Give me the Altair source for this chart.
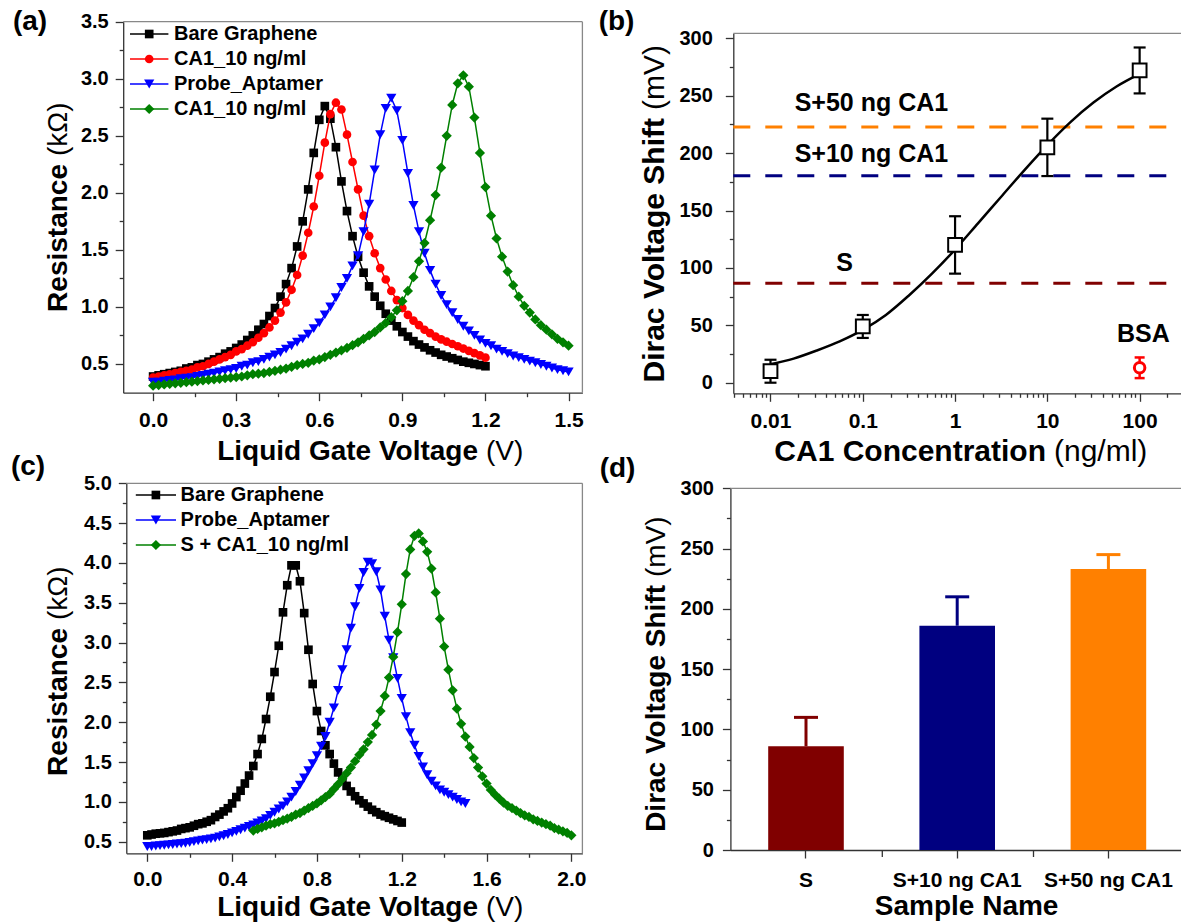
import altair as alt
import pandas as pd

FONT = "Liberation Sans"
W, H = 1181, 922
STEP = 0.02  # gate-voltage sweep step (V)

# ---------------- panel (a): resistance (kOhm), sweeps start at 0 V ----------------
a_black = [0.39, 0.40, 0.41, 0.42, 0.43, 0.44, 0.46, 0.47, 0.49, 0.50,
           0.52, 0.54, 0.56, 0.59, 0.61, 0.64, 0.67, 0.71, 0.75, 0.80,
           0.85, 0.92, 0.99, 1.09, 1.20, 1.34, 1.53, 1.75, 2.03, 2.35,
           2.64, 2.76, 2.65, 2.40, 2.10, 1.84, 1.62, 1.44, 1.30, 1.18,
           1.09, 1.01, 0.94, 0.88, 0.83, 0.78, 0.74, 0.70, 0.67, 0.645,
           0.62, 0.60, 0.58, 0.565, 0.55, 0.535, 0.52, 0.51, 0.50, 0.49, 0.48]
a_red = [0.38, 0.39, 0.40, 0.41, 0.42, 0.43, 0.44, 0.45, 0.47, 0.48,
         0.50, 0.52, 0.54, 0.56, 0.58, 0.61, 0.63, 0.66, 0.69, 0.73,
         0.77, 0.82, 0.88, 0.95, 1.04, 1.15, 1.28, 1.45, 1.65, 1.88,
         2.15, 2.44, 2.69, 2.79, 2.73, 2.51, 2.27, 2.03, 1.80, 1.62,
         1.47, 1.34, 1.24, 1.14, 1.06, 0.99, 0.93, 0.88, 0.84, 0.80,
         0.77, 0.74, 0.715, 0.695, 0.675, 0.655, 0.635, 0.615, 0.595, 0.575, 0.555]
a_blue = [0.34, 0.34, 0.35, 0.355, 0.36, 0.37, 0.375, 0.38, 0.39, 0.40,
          0.41, 0.42, 0.43, 0.44, 0.45, 0.46, 0.48, 0.49, 0.51, 0.52,
          0.54, 0.56, 0.58, 0.60, 0.63, 0.66, 0.69, 0.72, 0.76, 0.81,
          0.86, 0.93, 1.00, 1.08, 1.17, 1.25, 1.36, 1.45, 1.66, 1.90,
          2.20, 2.51, 2.74, 2.83, 2.72, 2.46, 2.17, 1.89, 1.66, 1.47,
          1.32, 1.20, 1.10, 1.02, 0.95, 0.89, 0.83, 0.79, 0.75, 0.71,
          0.68, 0.66, 0.63, 0.61, 0.59, 0.57, 0.555, 0.54, 0.525, 0.51,
          0.495, 0.48, 0.465, 0.45, 0.44, 0.43]
a_green = [0.31, 0.315, 0.32, 0.325, 0.33, 0.335, 0.34, 0.345, 0.35, 0.355,
           0.36, 0.365, 0.37, 0.375, 0.38, 0.385, 0.39, 0.40, 0.41, 0.415,
           0.42, 0.43, 0.44, 0.45, 0.46, 0.475, 0.49, 0.50, 0.51, 0.53,
           0.54, 0.56, 0.58, 0.60, 0.62, 0.64, 0.665, 0.69, 0.72, 0.75,
           0.78, 0.82, 0.86, 0.91, 0.97, 1.05, 1.14, 1.26, 1.40, 1.56,
           1.76, 1.98, 2.22, 2.50, 2.77, 2.96, 3.03, 2.93, 2.66, 2.35,
           2.05, 1.80, 1.60, 1.44, 1.31, 1.19, 1.09, 1.01, 0.95, 0.89,
           0.84, 0.80, 0.76, 0.72, 0.69, 0.66]
a_series = [a_black, a_red, a_blue, a_green]
a_starts = [0.0, 0.0, 0.0, 0.0]
a_names = ["Bare Graphene", "CA1_10 ng/ml", "Probe_Aptamer", "CA1_10 ng/ml"]
a_colors = ["#000000", "#FF0000", "#0000FF", "#008000"]
a_shapes = ["square", "circle", "triangle-down", "diamond"]
a_sizes = [75, 75, 105, 105]

# ---------------- panel (b): Dirac voltage shift (mV) vs CA1 concentration ----------------
b_conc = [0.01, 0.1, 1, 10, 100]
b_shift = [10, 49, 120, 205, 272]
b_err = [10, 10, 25, 25, 20]
b_bsa_conc = [100]
b_bsa_shift = [13]
b_bsa_err = [9]
b_fit_conc = [0.01, 0.0178, 0.0316, 0.0562, 0.1, 0.178, 0.316, 0.562, 1,
              1.78, 3.16, 5.62, 10, 17.8, 31.6, 56.2, 100]
b_fit_shift = [16, 21, 28, 36, 46, 59, 76, 95, 116, 139, 162, 185, 207, 227, 244, 258, 269]
b_ref_names = ["S", "S+10 ng CA1", "S+50 ng CA1"]
b_ref_shift = [86.6, 180.3, 222.7]
b_ref_colors = ["#800000", "#000080", "#FF8000"]
b_note_text = ["S+50 ng CA1", "S+10 ng CA1", "S", "BSA"]
b_note_conc = [0.124, 0.124, 0.0634, 110]
b_note_shift = [243.4, 199.2, 104, 42.4]

# ---------------- panel (c): resistance (kOhm) ----------------
c_black = [0.58, 0.59, 0.60, 0.605, 0.61, 0.62, 0.63, 0.64, 0.66, 0.67,
           0.68, 0.70, 0.72, 0.73, 0.75, 0.77, 0.81, 0.84, 0.88, 0.92,
           0.98, 1.06, 1.14, 1.23, 1.33, 1.45, 1.60, 1.79, 2.04, 2.32,
           2.63, 2.96, 3.38, 3.72, 3.97, 3.97, 3.77, 3.37, 2.91, 2.48,
           2.14, 1.89, 1.71, 1.60, 1.48, 1.37, 1.27, 1.20, 1.13, 1.07,
           1.02, 0.98, 0.94, 0.90, 0.87, 0.84, 0.82, 0.80, 0.78, 0.76, 0.74]
c_blue = [0.44, 0.44, 0.445, 0.45, 0.455, 0.46, 0.465, 0.47, 0.475, 0.48,
          0.49, 0.50, 0.51, 0.52, 0.525, 0.535, 0.545, 0.56, 0.575, 0.59,
          0.61, 0.63, 0.65, 0.67, 0.69, 0.71, 0.735, 0.76, 0.79, 0.83,
          0.87, 0.91, 0.95, 1.00, 1.06, 1.13, 1.21, 1.30, 1.39, 1.48,
          1.58, 1.70, 1.82, 2.00, 2.18, 2.40, 2.66, 2.91, 3.18, 3.45,
          3.68, 3.88, 4.01, 3.99, 3.89, 3.66, 3.33, 3.03, 2.81, 2.55,
          2.30, 2.07, 1.87, 1.71, 1.57, 1.44, 1.34, 1.26, 1.20, 1.15,
          1.12, 1.09, 1.06, 1.03, 1.00, 0.98]
c_green = [0.64, 0.66, 0.68, 0.70, 0.72, 0.73, 0.75, 0.77, 0.79, 0.81,
           0.84, 0.86, 0.89, 0.92, 0.95, 0.98, 1.02, 1.06, 1.10, 1.16,
           1.22, 1.29, 1.36, 1.43, 1.51, 1.59, 1.66, 1.75, 1.84, 1.97,
           2.14, 2.33, 2.56, 2.82, 3.13, 3.48, 3.86, 4.17, 4.34, 4.37,
           4.27, 4.14, 3.93, 3.63, 3.30, 2.95, 2.66, 2.40, 2.17, 1.98,
           1.82, 1.69, 1.55, 1.43, 1.32, 1.23, 1.15, 1.09, 1.04, 0.99,
           0.95, 0.92, 0.89, 0.86, 0.83, 0.81, 0.78, 0.76, 0.74, 0.72,
           0.70, 0.67, 0.65, 0.63, 0.61, 0.58]
c_series = [c_black, c_blue, c_green]
c_starts = [0.0, 0.0, 0.5]
c_names = ["Bare Graphene", "Probe_Aptamer", "S + CA1_10 ng/ml"]
c_colors = ["#000000", "#0000FF", "#008000"]
c_shapes = ["square", "triangle-down", "diamond"]
c_sizes = [75, 105, 105]

# ---------------- panel (d): bar chart ----------------
d_samples = ["S", "S+10 ng CA1", "S+50 ng CA1"]
d_shift = [86, 186, 233]
d_err = [24, 24, 12]
d_colors = ["#800000", "#000080", "#FF8000"]

ONE = pd.DataFrame({"k": [0]})


def sweep(start, values):
    return pd.DataFrame({"v": [round(start + STEP * i, 2) for i in range(len(values))],
                         "r": values})


def mk_axis(orient, offset, values=None, fmt=None, minor=None, pad=8, size=21, **kw):
    args = dict(orient=orient, offset=offset, title=None, grid=False,
                labelOverlap=False, labelFlush=False, labelFont=FONT,
                labelFontWeight="bold", labelFontSize=size, labelColor="black",
                labelPadding=pad, domainColor="#333333", tickColor="#333333",
                domainWidth=1.3, tickWidth=1.3)
    if values is not None:
        args["values"] = values
    if fmt:
        args["format"] = fmt
    if minor:
        args["labelExpr"] = f"({minor}) ? '' : datum.label"
        args["tickSize"] = {"condition": {"test": minor, "value": 4}, "value": 8}
    else:
        args["tickSize"] = 8
    args.update(kw)
    return alt.Axis(**args)


def px_rule(x, y, x2=None, y2=None, color="#888888", width=1.3):
    enc = dict(x=alt.value(x), y=alt.value(y))
    if x2 is not None:
        enc["x2"] = alt.value(x2)
    if y2 is not None:
        enc["y2"] = alt.value(y2)
    return alt.Chart(ONE).mark_rule(color=color, strokeWidth=width).encode(**enc)


def px_text(text, x, y, size, weight="bold", align="center", baseline="middle", angle=0):
    kw = dict(text=text, font=FONT, fontSize=size, fontWeight=weight, align=align,
              baseline=baseline, color="black")
    if angle:
        kw["angle"] = angle
    return alt.Chart(ONE).mark_text(**kw).encode(x=alt.value(x), y=alt.value(y))


def legend(names, colors, shapes, sizes, ys, x0, x1, xt):
    out = []
    for n, c, s, z, y in zip(names, colors, shapes, sizes, ys):
        out.append(px_rule(x0, y, x2=x1, color=c, width=1.5))
        out.append(alt.Chart(ONE).mark_point(shape=s, filled=True, size=z, color=c, opacity=1)
                   .encode(x=alt.value((x0 + x1) / 2), y=alt.value(y)))
        out.append(px_text(n, xt, y, 20, align="left"))
    return out


def curve_panel(series, starts, colors, shapes, sizes, x, y):
    out = []
    for vals, st, c, s, z in zip(series, starts, colors, shapes, sizes):
        out.append(alt.Chart(sweep(st, vals)).mark_line(
            color=c, strokeWidth=1.5,
            point=alt.OverlayMarkDef(filled=True, shape=s, size=z, color=c, opacity=1)
        ).encode(x=x, y=y))
    return out


HALF_MINOR = "abs(datum.value*2 - round(datum.value*2)) > 0.01"
FIFTY_MINOR = "datum.value % 50 != 0"

# ---------------- panel (a) ----------------
xa = alt.X("v:Q", scale=alt.Scale(domain=[-0.108, 1.55], range=[123.2, 582.4], nice=False, zero=False),
           axis=mk_axis("bottom", 392.7 - H, [round(0.15 * i, 2) for i in range(11)], ".1f",
                        "abs(datum.value/0.3 - round(datum.value/0.3)) > 0.01", 9))
ya = alt.Y("r:Q", scale=alt.Scale(domain=[0.248, 3.5], range=[392.7, 21.7], nice=False, zero=False),
           axis=mk_axis("left", -123.2, [round(0.5 + 0.25 * i, 2) for i in range(13)], ".1f",
                        HALF_MINOR, 7, 20))
panel_a = alt.layer(
    *curve_panel(a_series, a_starts, a_colors, a_shapes, a_sizes, xa, ya),
    *legend(a_names, a_colors, a_shapes, a_sizes, [34, 59, 84, 109], 130, 168.4, 174),
)

# ---------------- panel (b) ----------------
B_XMIN, B_XMAX = 0.003953, 486
sxb = alt.Scale(type="log", domain=[B_XMIN, B_XMAX], range=[733.3, 1203], nice=False)
syb = alt.Scale(domain=[-9.23, 304.36], range=[393.3, 33.3], nice=False, zero=False)
b_xticks = [round(m * 10.0 ** e, 6) for e in range(-3, 3) for m in range(1, 10)]
b_xticks = [t for t in b_xticks if B_XMIN <= t <= B_XMAX]
ax_bx = mk_axis("bottom", 393.3 - H, b_xticks, "~g",
                "abs(log(datum.value)/LN10 - round(log(datum.value)/LN10)) > 0.01", 9)
ax_by = mk_axis("left", -733.3, list(range(0, 301, 25)), "d", FIFTY_MINOR, 13, 20)


def bx(f):
    return alt.X(f, scale=sxb, axis=ax_bx)


def by(f):
    return alt.Y(f, scale=syb, axis=ax_by)


ref_df = pd.DataFrame({"x0": [B_XMIN] * 3, "x1": [B_XMAX] * 3, "y": b_ref_shift, "col": b_ref_colors})
pts_df = pd.DataFrame({"c": b_conc, "s": b_shift,
                       "lo": [s - e for s, e in zip(b_shift, b_err)],
                       "hi": [s + e for s, e in zip(b_shift, b_err)]})
bsa_df = pd.DataFrame({"c": b_bsa_conc, "s": b_bsa_shift,
                       "lo": [s - e for s, e in zip(b_bsa_shift, b_bsa_err)],
                       "hi": [s + e for s, e in zip(b_bsa_shift, b_bsa_err)]})
fit_df = pd.DataFrame({"c": b_fit_conc, "s": b_fit_shift})
note_df = pd.DataFrame({"c": b_note_conc, "s": b_note_shift, "t": b_note_text})

panel_b = alt.layer(
    alt.Chart(ref_df).mark_rule(strokeWidth=3, strokeDash=[17, 15]).encode(
        x=bx("x0:Q"), x2="x1:Q", y=by("y:Q"), color=alt.Color("col:N", scale=None)),
    alt.Chart(fit_df).mark_line(color="black", strokeWidth=2.5, interpolate="monotone").encode(
        x=bx("c:Q"), y=by("s:Q")),
    alt.Chart(pts_df).mark_rule(color="black", strokeWidth=2.2).encode(x=bx("c:Q"), y=by("lo:Q"), y2="hi:Q"),
    alt.Chart(pts_df).mark_tick(orient="horizontal", color="black", size=12, thickness=2.2, opacity=1).encode(
        x=bx("c:Q"), y=by("lo:Q")),
    alt.Chart(pts_df).mark_tick(orient="horizontal", color="black", size=12, thickness=2.2, opacity=1).encode(
        x=bx("c:Q"), y=by("hi:Q")),
    alt.Chart(pts_df).mark_point(shape="square", size=190, filled=True, fill="white", stroke="black",
                                 strokeWidth=2, opacity=1).encode(x=bx("c:Q"), y=by("s:Q")),
    alt.Chart(bsa_df).mark_rule(color="#FF0000", strokeWidth=2.5).encode(x=bx("c:Q"), y=by("lo:Q"), y2="hi:Q"),
    alt.Chart(bsa_df).mark_tick(orient="horizontal", color="#FF0000", size=10, thickness=2.5, opacity=1).encode(
        x=bx("c:Q"), y=by("lo:Q")),
    alt.Chart(bsa_df).mark_tick(orient="horizontal", color="#FF0000", size=10, thickness=2.5, opacity=1).encode(
        x=bx("c:Q"), y=by("hi:Q")),
    alt.Chart(bsa_df).mark_point(shape="circle", size=110, filled=True, fill="white", stroke="#FF0000",
                                 strokeWidth=3, opacity=1).encode(x=bx("c:Q"), y=by("s:Q")),
    alt.Chart(note_df).mark_text(font=FONT, fontSize=25, fontWeight="bold", color="black",
                                 baseline="middle").encode(x=bx("c:Q"), y=by("s:Q"), text="t:N"),
)

# ---------------- panel (c) ----------------
xc = alt.X("v:Q", scale=alt.Scale(domain=[-0.099, 2.052], range=[126.3, 582.4], nice=False, zero=False),
           axis=mk_axis("bottom", 853.3 - H, [round(0.2 * i, 2) for i in range(11)], ".1f",
                        "abs(datum.value/0.4 - round(datum.value/0.4)) > 0.01", 7))
yc = alt.Y("r:Q", scale=alt.Scale(domain=[0.354, 5.0], range=[853.3, 483.3], nice=False, zero=False),
           axis=mk_axis("left", -126.3, [round(0.5 + 0.25 * i, 2) for i in range(19)], ".1f",
                        HALF_MINOR, 7, 20))
panel_c = alt.layer(
    *curve_panel(c_series, c_starts, c_colors, c_shapes, c_sizes, xc, yc),
    *legend(c_names, c_colors, c_shapes, c_sizes, [495, 520, 545], 135.8, 176, 180.6),
)

# ---------------- panel (d) ----------------
d_df = pd.DataFrame({"sample": d_samples, "v": d_shift,
                     "top": [v + e for v, e in zip(d_shift, d_err)], "col": d_colors})
xd = alt.X("sample:N", sort=None,
           scale=alt.Scale(domain=d_samples, range=[730.4, 1184], paddingInner=0.5, paddingOuter=0.25),
           axis=mk_axis("bottom", 850 - H, pad=11, labelAngle=0))
yd = alt.Y("v:Q", scale=alt.Scale(domain=[0, 300], range=[850, 488.3], nice=False, zero=False),
           axis=mk_axis("left", -730.4, list(range(0, 301, 25)), "d", FIFTY_MINOR, 9, 20))
ydt = alt.Y("top:Q", scale=alt.Scale(domain=[0, 300], range=[850, 488.3], nice=False, zero=False),
            axis=mk_axis("left", -730.4, list(range(0, 301, 25)), "d", FIFTY_MINOR, 9, 20))
colord = alt.Color("col:N", scale=None)
panel_d = alt.layer(
    alt.Chart(d_df).mark_bar().encode(x=xd, y=yd, color=colord),
    alt.Chart(d_df).mark_rule(strokeWidth=3).encode(x=xd, y=yd, y2="top:Q", color=colord),
    alt.Chart(d_df).mark_tick(orient="horizontal", size=24, thickness=3, opacity=1).encode(
        x=xd, y=ydt, color=colord),
    px_rule(882.3, 850, y2=857, color="#333333"),
    px_rule(1033.5, 850, y2=857, color="#333333"),
)

# ---------------- frames, panel labels, axis titles ----------------
decor = [
    px_rule(123.2, 21.7, x2=582.4), px_rule(582.4, 21.7, y2=392.7),
    px_rule(733.3, 33.3, x2=1250),
    px_rule(126.3, 483.3, x2=582.4), px_rule(582.4, 483.3, y2=853.3),
    px_rule(730.4, 488.3, x2=1250),
    px_text("(a)", 30, 22, 28), px_text("(b)", 616.5, 22, 28),
    px_text("(c)", 28, 467, 28), px_text("(d)", 617.5, 469, 28),
    # (a) titles
    px_text("Liquid Gate Voltage", 478, 460, 28, align="right", baseline="alphabetic"),
    px_text("(V)", 486, 460, 28, weight="normal", align="left", baseline="alphabetic"),
    px_text("Resistance", 58.5, 164, 28, align="right", angle=270),
    px_text("(kΩ)", 58.5, 156, 28, weight="normal", align="left", angle=270),
    # (b) titles
    px_text("CA1 Concentration", 1046, 461, 30, align="right", baseline="alphabetic"),
    px_text("(ng/ml)", 1054, 461, 30, weight="normal", align="left", baseline="alphabetic"),
    px_text("Dirac Voltage Shift", 655, 118, 30, align="right", angle=270),
    px_text("(mV)", 655, 110, 30, weight="normal", align="left", angle=270),
    # (c) titles
    px_text("Liquid Gate Voltage", 478, 916, 28, align="right", baseline="alphabetic"),
    px_text("(V)", 486, 916, 28, weight="normal", align="left", baseline="alphabetic"),
    px_text("Resistance", 58.5, 628, 28, align="right", angle=270),
    px_text("(kΩ)", 58.5, 620, 28, weight="normal", align="left", angle=270),
    # (d) titles
    px_text("Sample Name", 966.6, 915, 28, baseline="alphabetic"),
    px_text("Dirac Voltage Shift", 656.5, 585, 28, align="right", angle=270),
    px_text("(mV)", 656.5, 577, 28, weight="normal", align="left", angle=270),
]

chart = alt.layer(
    alt.layer(*decor), panel_a, panel_b, panel_c, panel_d
).resolve_scale(
    x="independent", y="independent"
).properties(
    width=W, height=H, autosize=alt.AutoSizeParams(type="none"), padding=0, background="white"
).configure_view(stroke=None)

chart.save("out.html", embed_options={"renderer": "svg", "actions": False})
